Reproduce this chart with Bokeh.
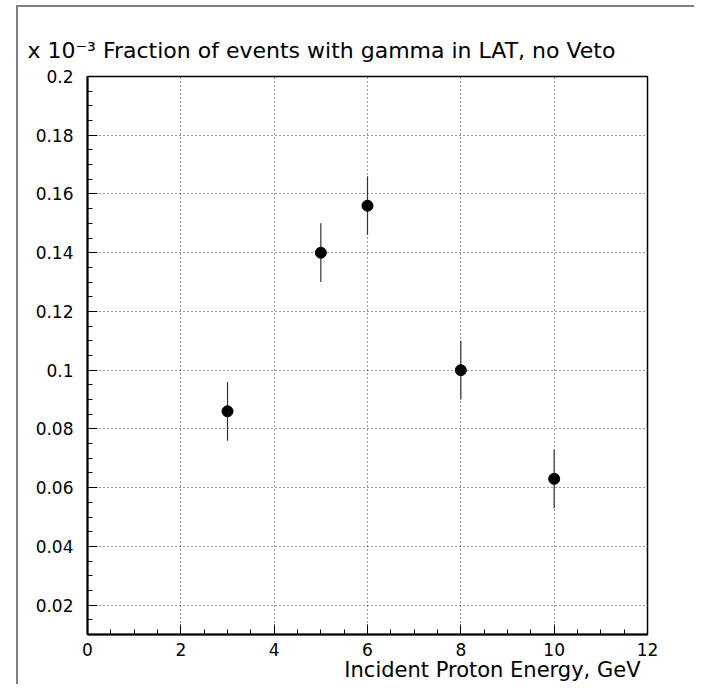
from bokeh.plotting import figure
from bokeh.models import (ColumnDataSource, Range1d, FixedTicker, CustomJSTickFormatter, Title)
from bokeh.embed import file_html
from bokeh.resources import INLINE

# ---- data ----
energy = [3, 5, 6, 8, 10]                      # GeV
fraction = [0.086, 0.140, 0.156, 0.100, 0.063]  # x 10^-3
error = [0.010, 0.010, 0.010, 0.010, 0.010]

x_major = [0, 2, 4, 6, 8, 10, 12]
y_major = [0.02, 0.04, 0.06, 0.08, 0.10, 0.12, 0.14, 0.16, 0.18, 0.20]
x_minor = [i * 0.5 for i in range(0, 25)]
y_minor = [0.01 + i * 0.005 for i in range(0, 39)]

title_text = "x 10\u207b\u00b3 Fraction of events with gamma in LAT, no Veto"
xlabel_text = "Incident Proton Energy, GeV"

lo = [f - e for f, e in zip(fraction, error)]
hi = [f + e for f, e in zip(fraction, error)]
src = ColumnDataSource(dict(x=energy, y=fraction, lo=lo, hi=hi))

p = figure(width=694, height=684, output_backend="svg", toolbar_location=None,
           x_range=Range1d(0, 12), y_range=Range1d(0.01, 0.2),
           min_border_left=87, min_border_right=47, min_border_top=76, min_border_bottom=50)
p.title = None
p.background_fill_color = "white"
p.border_fill_alpha = 0
p.outline_line_color = "black"
p.outline_line_width = 1.5
p.styles = {
    "background": "linear-gradient(#808080,#808080) 16px 5px / 2px 100% no-repeat, "
                  "linear-gradient(#808080,#808080) 16px 5px / 100% 2px no-repeat, white"
}

tick_font = "DejaVu Sans"
for ax in (p.xaxis[0], p.yaxis[0]):
    ax.axis_line_color = "black"
    ax.axis_line_width = 2
    ax.major_tick_in = 10
    ax.major_tick_out = 0
    ax.minor_tick_in = 5
    ax.minor_tick_out = 0
    ax.major_tick_line_color = "black"
    ax.minor_tick_line_color = "black"
    ax.major_tick_line_width = 1
    ax.minor_tick_line_width = 1
    ax.major_label_text_font = tick_font
    ax.major_label_text_font_size = "17px"
    ax.major_label_text_color = "black"

p.xaxis.ticker = FixedTicker(ticks=x_major, minor_ticks=x_minor)
p.yaxis.ticker = FixedTicker(ticks=y_major, minor_ticks=y_minor)
p.xaxis.major_label_standoff = 8
p.yaxis.major_label_standoff = 14
p.yaxis.formatter = CustomJSTickFormatter(code="return String(Math.round(tick*100)/100);")
p.xaxis.formatter = CustomJSTickFormatter(code="return String(Math.round(tick));")

p.xgrid.ticker = FixedTicker(ticks=x_major[1:-1])
p.ygrid.ticker = FixedTicker(ticks=y_major[:-1])
for g in (p.xgrid[0], p.ygrid[0]):
    g.grid_line_color = "black"
    g.grid_line_width = 1
    g.grid_line_dash = "1 3"
    g.grid_line_alpha = 0.8

p.segment(x0="x", y0="lo", x1="x", y1="hi", source=src, line_color="#333333", line_width=1.2)
p.scatter(x="x", y="y", source=src, size=11, fill_color="black", line_color="black")

p.add_layout(Title(text=title_text, align="left", offset=-60, standoff=27,
                   text_font=tick_font, text_font_size="22px", text_font_style="normal",
                   text_color="black"), "above")
p.add_layout(Title(text=xlabel_text, align="right", offset=7, standoff=-6,
                   text_font=tick_font, text_font_size="21px", text_font_style="normal",
                   text_color="black"), "below")

open("out.html", "w").write(file_html(p, INLINE))
